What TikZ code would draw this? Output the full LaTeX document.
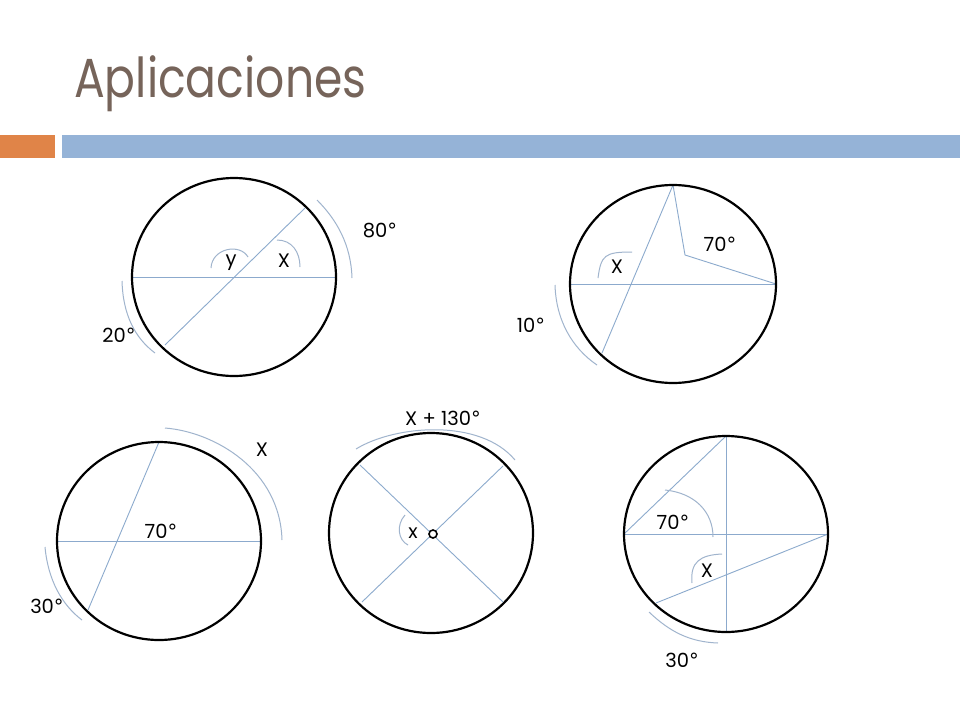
\documentclass[tikz,border=0pt]{standalone}
\usepackage{fontspec}
\setmainfont{Poppins}
\newfontfamily\dvfont{DejaVu Sans}
\newcommand{\dgr}{{\dvfont °}}
\definecolor{titlec}{RGB}{118,100,90}
\definecolor{barorange}{RGB}{224,132,72}
\definecolor{barblue}{RGB}{149,179,215}
\definecolor{chordc}{RGB}{140,170,205}
\definecolor{arcc}{RGB}{160,180,205}
\tikzset{
  circ/.style={draw=black, line width=2.2pt},
  chord/.style={draw=chordc, line width=0.9pt},
  marc/.style={draw=arcc, line width=1pt},
  lbl/.style={font=\fontsize{19.5}{22}\selectfont, text=black, inner sep=0pt},
}
\begin{document}
\begin{tikzpicture}[x=1pt, y=-1pt]
\useasboundingbox (0,0) rectangle (960,720);
\fill[white] (0,0) rectangle (960,720);
% header
\node[anchor=base west, text=titlec, font=\fontsize{55}{58}\selectfont, inner sep=0pt] (title) at (74,97) {\scalebox{0.83}[1]{Aplicaciones}};
\fill[barorange] (0,135) rectangle (55,158);
\fill[barblue] (62,135) rectangle (960,158);

% ---------- circle 1 ----------
\coordinate (c1) at (234,277);
\coordinate (c1l) at (132,277);
\coordinate (c1r) at (336,277);
\coordinate (c1a) at (305,208);
\coordinate (c1b) at (165,345);
\draw[chord] (c1l) -- (c1r);
\draw[chord] (c1a) -- (c1b);
\draw[circ] (c1) ellipse [x radius=102, y radius=99];
\draw[marc] (211,268) .. controls (212,248) and (240,243) .. (248,257);
\draw[marc] (277,240) .. controls (292,240) and (300,252) .. (300,267);
\draw[marc] (317,200) .. controls (337,220) and (351,245) .. (352,278);
\draw[marc] (122,281) .. controls (123,315) and (135,338) .. (155,353);
\node[lbl] (l1y) at (231,263) {y};
\node[lbl] (l1x) at (284,261) {X};
\node[lbl] (l180) at (380,230) {80\dgr};
\node[lbl] (l120) at (119,335) {20\dgr};

% ---------- circle 2 ----------
\coordinate (c2) at (673,284);
\coordinate (c2l) at (570,284);
\coordinate (c2r) at (776,284);
\coordinate (c2t) at (673,185);
\coordinate (c2b) at (602,353);
\coordinate (c2v) at (685,255);
\draw[chord] (c2l) -- (c2r);
\draw[chord] (c2t) -- (c2b);
\draw[chord] (c2t) -- (c2v) -- (c2r);
\draw[circ] (c2) ellipse [x radius=103, y radius=99];
\draw[marc] (598,278) .. controls (601,255) and (605,252) .. (632,252);
\draw[marc] (555,285) .. controls (556,320) and (572,348) .. (597,365);
\node[lbl] (l2x) at (617,267) {X};
\node[lbl] (l270) at (720,244) {70\dgr};
\node[lbl] (l210) at (531,325) {10\dgr};

% ---------- circle 3 ----------
\coordinate (c3) at (159,541);
\coordinate (c3l) at (57,541);
\coordinate (c3r) at (261,541);
\coordinate (c3t) at (159,442);
\coordinate (c3b) at (88,610);
\draw[chord] (c3l) -- (c3r);
\draw[chord] (c3t) -- (c3b);
\draw[circ] (c3) ellipse [x radius=102, y radius=99];
\draw[marc] (165,428) .. controls (215,432) and (280,470) .. (282,540);
\draw[marc] (45,547) .. controls (48,580) and (62,605) .. (82,620);
\node[lbl] (l370) at (161,531) {70\dgr};
\node[lbl] (l3x) at (262,450) {X};
\node[lbl] (l330) at (47,606) {30\dgr};

% ---------- circle 4 ----------
\coordinate (c4) at (431,533);
\coordinate (c4a) at (360,465);
\coordinate (c4b) at (503,602);
\coordinate (c4c) at (503,466);
\coordinate (c4d) at (362,602);
\draw[chord] (c4a) -- (c4b);
\draw[chord] (c4c) -- (c4d);
\draw[circ] (c4) ellipse [x radius=102, y radius=100];
\draw[black, line width=1.6pt, fill=white] (433,534) circle[radius=4];
\draw[marc] (405,515) .. controls (396,525) and (398,540) .. (408,545);
\draw[marc] (356,449) .. controls (395,425) and (480,418) .. (515,460);
\node[lbl] (l4x) at (413,533) {x};
\node[lbl] (l4t) at (443,418) {X + 130\dgr};

% ---------- circle 5 ----------
\coordinate (c5) at (726,534);
\coordinate (c5t) at (726,436);
\coordinate (c5b) at (726,632);
\coordinate (c5l) at (624,534);
\coordinate (c5r) at (828,534);
\coordinate (c5p) at (656,603);
\draw[chord] (c5t) -- (c5b);
\draw[chord] (c5l) -- (c5r);
\draw[chord] (c5t) -- (c5l);
\draw[chord] (c5r) -- (c5p);
\draw[circ] (c5) ellipse [x radius=102, y radius=98];
\draw[marc] (665,490) .. controls (695,493) and (713,512) .. (713,537);
\draw[marc] (692,583) .. controls (690,562) and (700,555) .. (722,554);
\draw[marc] (649,612) .. controls (670,632) and (690,642) .. (718,643);
\node[lbl] (l570) at (673,522) {70\dgr};
\node[lbl] (l5x) at (707,571) {X};
\node[lbl] (l530) at (682,660) {30\dgr};
\end{tikzpicture}
\end{document}
